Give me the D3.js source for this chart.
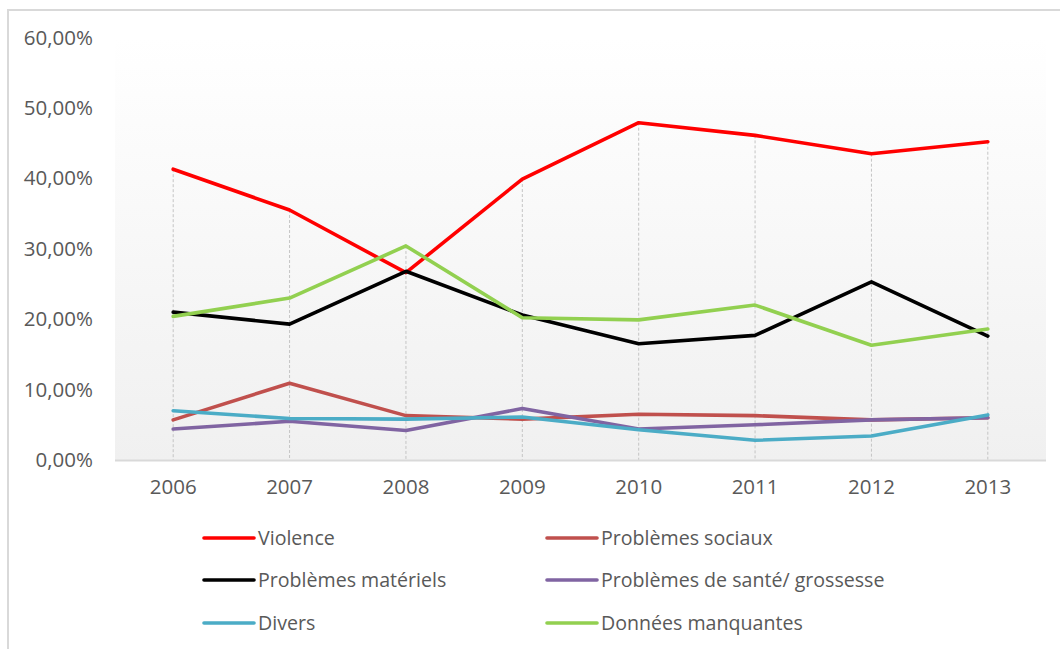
<!DOCTYPE html>
<html>
<head>
<meta charset="utf-8">
<script src="https://cdn.jsdelivr.net/npm/d3@7"></script>
<style>
  html, body { margin: 0; padding: 0; background: #ffffff; }
  svg { display: block; }
  text { font-family: "Open Sans", "Liberation Sans", sans-serif; fill: #595959; }
</style>
</head>
<body>
<svg id="chart" width="1060" height="649"></svg>
<script>
// ---- data ----
const years = ["2006", "2007", "2008", "2009", "2010", "2011", "2012", "2013"];
const violence      = [41.3, 35.5, 26.6, 39.9, 47.9, 46.1, 43.5, 45.2];
const sociaux       = [5.7, 10.9, 6.3, 5.8, 6.5, 6.3, 5.7, 6.0];
const materiels     = [21.0, 19.3, 26.8, 20.6, 16.5, 17.7, 25.3, 17.6];
const sante         = [4.4, 5.5, 4.2, 7.3, 4.4, 5.0, 5.7, 6.0];
const divers        = [7.0, 5.9, 5.8, 6.1, 4.3, 2.8, 3.4, 6.4];
const manquantes    = [20.4, 23.0, 30.4, 20.2, 19.9, 22.0, 16.3, 18.6];
const seriesNames   = ["Violence", "Problèmes sociaux", "Problèmes matériels",
                       "Problèmes de santé/ grossesse", "Divers", "Données manquantes"];
const yTicks        = [0, 10, 20, 30, 40, 50, 60];

const seriesColors  = ["#FF0000", "#C0504D", "#000000", "#8064A2", "#4BACC6", "#92D050"];
const seriesValues  = [violence, sociaux, materiels, sante, divers, manquantes];
const series = seriesNames.map((n, i) => ({ name: n, color: seriesColors[i], values: seriesValues[i] }));

// ---- layout ----
const svg = d3.select("#chart");
const plot = { left: 115, right: 1046, top: 37.5, bottom: 460 };

const x = d3.scaleBand().domain(years).range([plot.left, plot.right]).padding(0);
const y = d3.scaleLinear().domain([0, 60]).range([plot.bottom, plot.top]);
const cx = d => x(d) + x.bandwidth() / 2;

// outer chart border
svg.append("rect")
  .attr("x", 8).attr("y", 10)
  .attr("width", 1200).attr("height", 800)
  .attr("fill", "none").attr("stroke", "#d9d9d9").attr("stroke-width", 2);

// plot background gradient
const defs = svg.append("defs");
const grad = defs.append("linearGradient").attr("id", "bg")
  .attr("x1", 0).attr("y1", 0).attr("x2", 0).attr("y2", 1);
grad.append("stop").attr("offset", "0%").attr("stop-color", "#ffffff");
grad.append("stop").attr("offset", "100%").attr("stop-color", "#f0f0f0");

svg.append("rect")
  .attr("x", plot.left).attr("y", plot.top)
  .attr("width", plot.right - plot.left).attr("height", plot.bottom - plot.top)
  .attr("fill", "url(#bg)");

// drop lines (from the highest value down to the axis)
const maxes = years.map((yr, i) => d3.max(series, s => s.values[i]));
svg.append("g").selectAll("line")
  .data(years)
  .join("line")
  .attr("x1", d => cx(d)).attr("x2", d => cx(d))
  .attr("y1", (d, i) => y(maxes[i])).attr("y2", y(0))
  .attr("stroke", "#c4c4c4").attr("stroke-width", 1)
  .attr("stroke-dasharray", "3,2");

// x axis line
svg.append("line")
  .attr("x1", plot.left).attr("x2", plot.right)
  .attr("y1", y(0) + 0.5).attr("y2", y(0) + 0.5)
  .attr("stroke", "#d9d9d9").attr("stroke-width", 2);

// y axis labels
const yAxis = d3.axisLeft(y).tickValues(yTicks)
  .tickFormat(d => d3.format(".2f")(d).replace(".", ",") + "%")
  .tickSize(0).tickPadding(0);
const gy = svg.append("g").attr("transform", "translate(93,0)").call(yAxis);
gy.select(".domain").remove();
gy.selectAll("text").attr("font-size", 20.5).attr("font-family", null).attr("fill", "#595959");

// x axis labels
const xAxis = d3.axisBottom(x).tickSize(0).tickPadding(0);
const gx = svg.append("g").attr("transform", `translate(0,${y(0) + 19})`).call(xAxis);
gx.select(".domain").remove();
gx.selectAll("text").attr("font-size", 20.5).attr("font-family", null).attr("fill", "#595959");

// lines
const line = d3.line().x((d, i) => cx(years[i])).y(d => y(d));
svg.append("g").selectAll("path")
  .data(series)
  .join("path")
  .attr("d", s => line(s.values))
  .attr("fill", "none")
  .attr("stroke", s => s.color)
  .attr("stroke-width", 3.6)
  .attr("stroke-linejoin", "round")
  .attr("stroke-linecap", "round");

// legend
const legCols = [204, 547];
const legRows = [538, 580, 623];
const leg = svg.append("g").selectAll("g")
  .data(series)
  .join("g")
  .attr("transform", (s, i) => `translate(${legCols[i % 2]},${legRows[Math.floor(i / 2)]})`);
leg.append("line")
  .attr("x1", 0).attr("x2", 50).attr("y1", 0).attr("y2", 0)
  .attr("stroke", s => s.color).attr("stroke-width", 3.6)
  .attr("stroke-linecap", "round");
leg.append("text")
  .attr("x", 54).attr("y", 0).attr("dy", "0.35em")
  .attr("font-size", 19.6)
  .text(s => s.name);
</script>
</body>
</html>
